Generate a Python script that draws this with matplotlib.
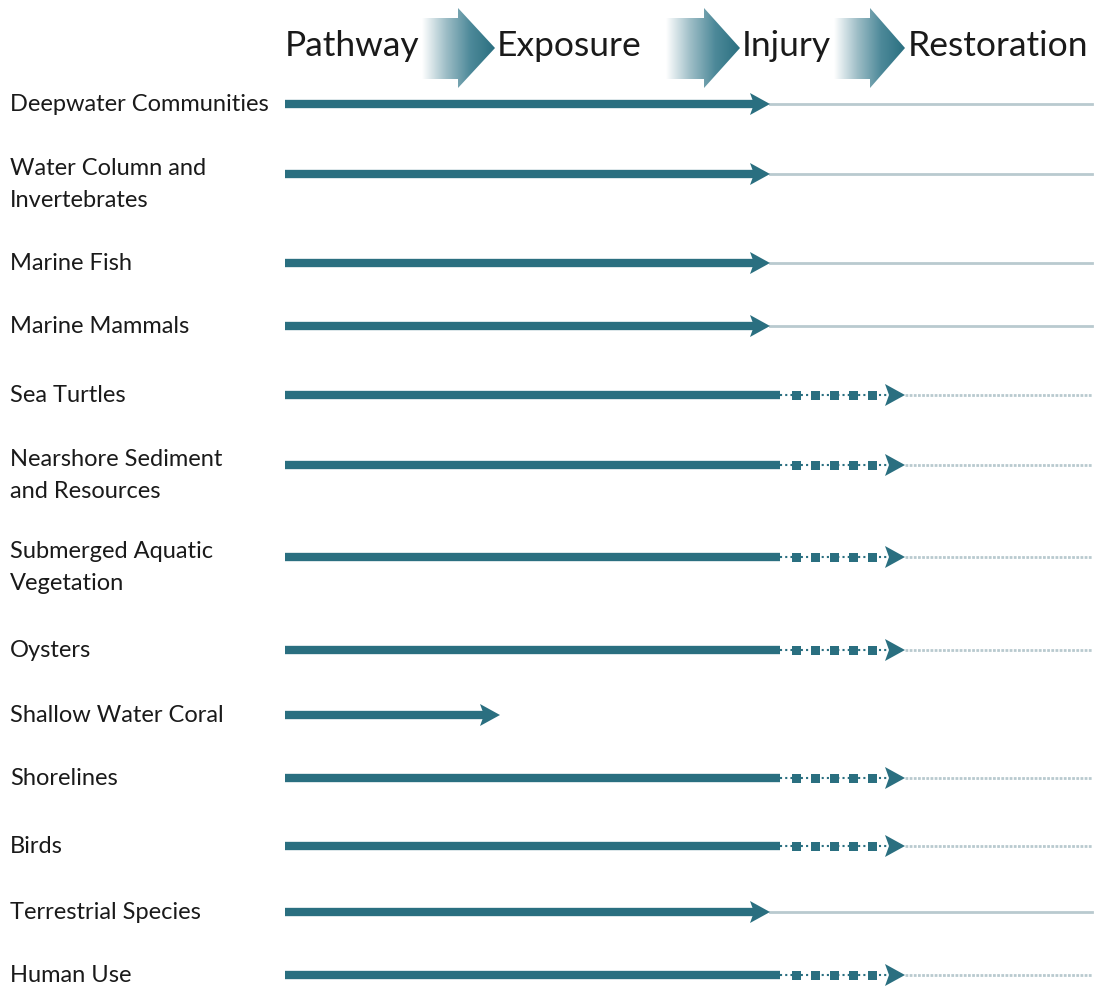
import matplotlib.pyplot as plt
import numpy as np
from matplotlib.patches import Polygon, Rectangle
from matplotlib.colors import LinearSegmentedColormap

# data
stages = ["Pathway", "Exposure", "Injury", "Restoration"]
categories = [
    "Deepwater Communities",
    "Water Column and\nInvertebrates",
    "Marine Fish",
    "Marine Mammals",
    "Sea Turtles",
    "Nearshore Sediment\nand Resources",
    "Submerged Aquatic\nVegetation",
    "Oysters",
    "Shallow Water Coral",
    "Shorelines",
    "Birds",
    "Terrestrial Species",
    "Human Use",
]
# stage reached by each resource
reached = ["Injury", "Injury", "Injury", "Injury", "Restoration", "Restoration",
           "Restoration", "Restoration", "Exposure", "Restoration", "Restoration",
           "Injury", "Restoration"]

# layout (pixel units)
row_y = [104, 174, 263, 326, 395, 465, 557, 650, 715, 778, 846, 912, 975]
stage_x = {"Pathway": 285, "Exposure": 500, "Injury": 770, "Restoration": 905}
x_end = 1092
teal = "#2a6f80"
thin = "#b9cacf"

fig = plt.figure(figsize=(11, 9.88), dpi=100)
ax = fig.add_axes([0, 0, 1, 1])
ax.set_xlim(0, 1100)
ax.set_ylim(988, 0)
ax.axis("off")

font = ["Lato", "DejaVu Sans"]


def head(x_tip, y, L=20, H=11):
    ax.add_patch(Polygon([[x_tip - L, y - H], [x_tip, y], [x_tip - L, y + H], [x_tip - L + 4, y]],
                         closed=True, color=teal, lw=0, zorder=4))


# header
hdr_x = [285, 497, 742, 908]
for s, x in zip(stages, hdr_x):
    ax.text(x, 56, s, fontsize=25.5, family=font, va="baseline", ha="left", color="#1a1a1a")

cmap = LinearSegmentedColormap.from_list("g", ["#ffffff", "#9dbdc6", "#4d8999", teal])
for b0, b1, tip in [(422, 458, 495), (666, 704, 740), (834, 870, 905)]:
    pts = [[b0, 18], [b1, 18], [b1, 8], [tip, 48], [b1, 88], [b1, 79], [b0, 79]]
    poly = Polygon(pts, closed=True, facecolor="none", edgecolor="none")
    ax.add_patch(poly)
    grad = np.linspace(0, 1, 256).reshape(1, -1)
    im = ax.imshow(grad, cmap=cmap, extent=[b0, tip, 90, 6], aspect="auto", zorder=2)
    im.set_clip_path(poly)
ax.set_xlim(0, 1100)
ax.set_ylim(988, 0)

# rows
for cat, st, y in zip(categories, reached, row_y):
    lines = cat.split("\n")
    y0 = y + 7 if len(lines) == 1 else y + 1
    for i, line in enumerate(lines):
        ax.text(10, y0 + i * 32, line, fontsize=17, family=font, va="baseline",
                ha="left", color="#1a1a1a")
    x0 = stage_x["Pathway"]
    if st == "Restoration":
        ax.plot([x0, 780], [y, y], color=teal, lw=6, solid_capstyle="butt", zorder=3)
        ax.plot([780, 890], [y, y], color=teal, lw=1.5, ls=(0, (1, 1.5)), zorder=3)
        for sx in [796, 815, 834, 853, 872]:
            ax.add_patch(Rectangle((sx - 4.5, y - 4.5), 9, 9, color=teal, lw=0, zorder=4))
        head(stage_x["Restoration"], y)
        ax.plot([stage_x["Restoration"], x_end], [y, y], color=thin, lw=2,
                ls=(0, (1, 0.5)), zorder=2)
    else:
        xt = stage_x[st]
        ax.plot([x0, xt - 16], [y, y], color=teal, lw=6, solid_capstyle="butt", zorder=3)
        head(xt, y)
        if st == "Injury":
            ax.plot([xt, x_end], [y, y], color=thin, lw=2, zorder=2)

fig.savefig("out.png", dpi=100)
